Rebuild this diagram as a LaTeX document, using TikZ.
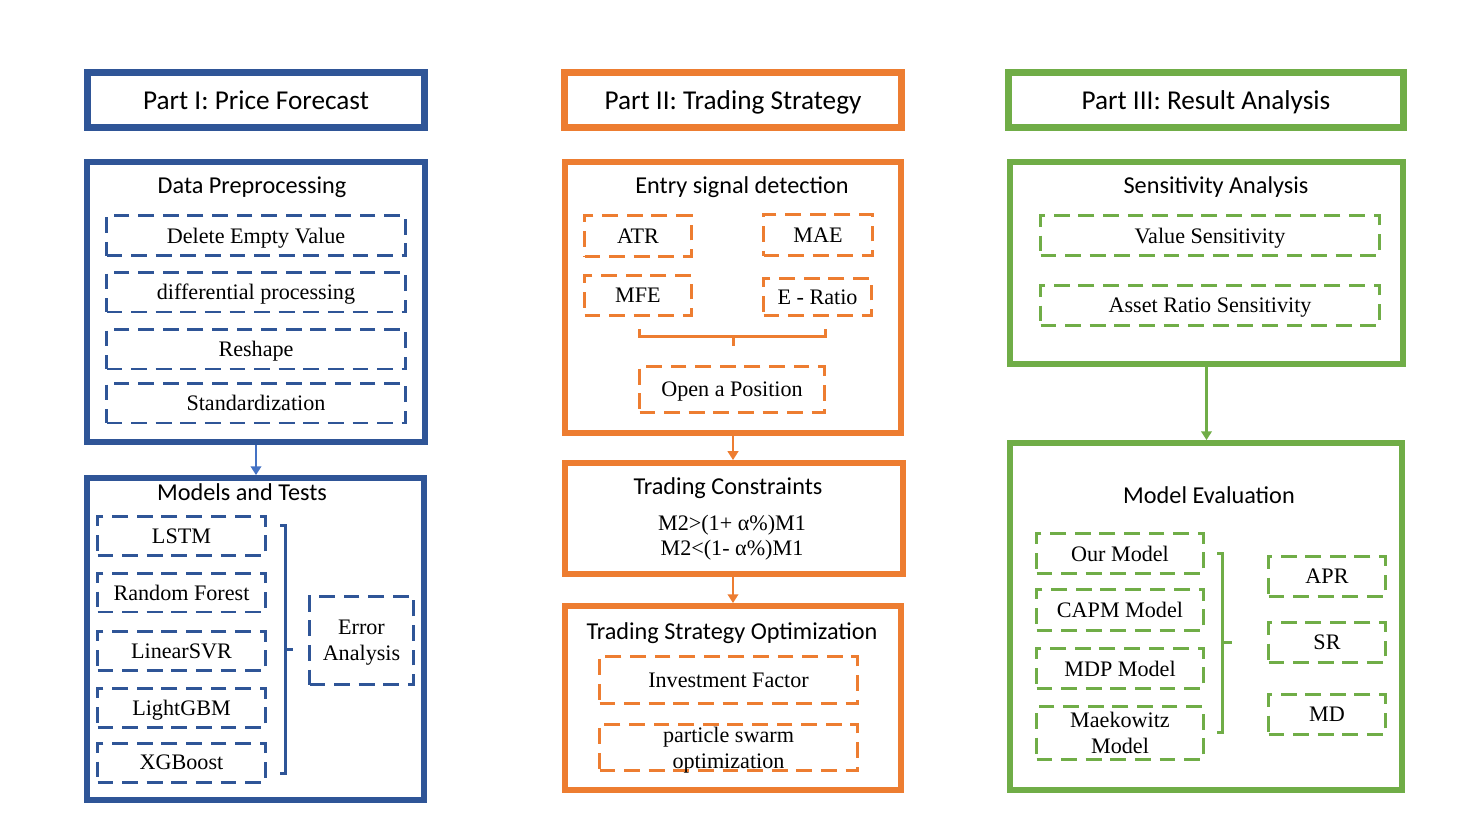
\documentclass[tikz,border=0pt]{standalone}
\usepackage{fontspec}
\setmainfont{Liberation Serif}
\newfontfamily\headfont{Carlito}
\usepackage{tikz}
\usetikzlibrary{arrows.meta, positioning}
\usepackage{xcolor}
\definecolor{partblue}{HTML}{2F5597}
\definecolor{arrowblue}{HTML}{4472C4}
\definecolor{partorange}{HTML}{ED7D31}
\definecolor{partgreen}{HTML}{70AD47}

\begin{document}
\begin{tikzpicture}[x=0.02cm, y=-0.02cm]
    % Define styles
    \tikzstyle{titlebox}=[draw, line width=4pt, minimum height=1.10cm, text height=11.3pt, text depth=0pt, font=\headfont\fontsize{15.5}{18}\selectfont]
    \tikzstyle{partbox}=[draw, line width=3.4pt]
    \tikzstyle{heading}=[anchor=base, font=\headfont\fontsize{13.8}{16}\selectfont]
    \tikzstyle{stepbox}=[draw, line width=1.7pt, dash pattern=on 9pt off 5pt, inner sep=0pt, text depth=0pt, align=center, font=\fontsize{12.6}{14.7}\selectfont]
    \tikzstyle{brace}=[line width=1.7pt]
    \tikzstyle{flow}=[-{Triangle[width=6pt,length=5pt]}, line width=1.2pt]

    \useasboundingbox (0,0) rectangle (1467,825);

    % Part I - Price Forecast
    \node[titlebox, draw=partblue, minimum width=6.74cm] (t1) at (256,100) {Part I: Price Forecast};

    % Data Preprocessing
    \node[partbox, draw=partblue, minimum width=6.76cm, minimum height=5.60cm] (dp) at (256,302) {};
    \node[heading] (dpT) at (252,193) {Data Preprocessing};
    \foreach \name/\y/\txt in {dev/235.5/Delete Empty Value, dif/292/differential processing, rsh/349/Reshape, std/403/Standardization} {
        \node[stepbox, draw=partblue, minimum width=5.98cm, minimum height=0.80cm] (\name) at (256,\y) {\txt};
    }

    % Models and Tests
    \node[partbox, draw=partblue, minimum width=6.74cm, minimum height=6.44cm] (mt) at (255.5,639) {};
    \node[heading] (mtT) at (242,500) {Models and Tests};
    \foreach \name/\y/\txt in {lstm/536/LSTM, rf/592.5/Random Forest, lsvr/651/LinearSVR, lgbm/708/LightGBM, xgb/762.5/XGBoost} {
        \node[stepbox, draw=partblue, minimum width=3.36cm, minimum height=0.78cm] (\name) at (181.5,\y) {\txt};
    }
    \node[stepbox, draw=partblue, minimum width=2.08cm, minimum height=1.76cm] (err) at (361.5,640.5) {Error\\Analysis};
    % bracket round the models
    \draw[brace, partblue] (280,525) -- (285.5,525) -- (285.5,773) -- (280,773);
    \draw[brace, partblue] (285.5,649) -- (293,649);

    \draw[flow, arrowblue] (dp.south) -- (dp.south |- mt.north);

    % Part II - Trading Strategy
    \node[titlebox, draw=partorange, minimum width=6.74cm] (t2) at (733,100) {Part II: Trading Strategy};

    % Entry signal detection
    \node[partbox, draw=partorange, minimum width=6.72cm, minimum height=5.42cm] (esd) at (733,297.5) {};
    \node[heading] (esdT) at (742,193) {Entry signal detection};
    \node[stepbox, draw=partorange, minimum width=2.14cm, minimum height=0.82cm] (atr) at (638,236) {ATR};
    \node[stepbox, draw=partorange, minimum width=2.18cm, minimum height=0.82cm] (mae) at (818,235) {MAE};
    \node[stepbox, draw=partorange, minimum width=2.14cm, minimum height=0.80cm] (mfe) at (638,295.5) {MFE};
    \node[stepbox, draw=partorange, minimum width=2.16cm, minimum height=0.74cm] (eratio) at (817.5,297) {E - Ratio};
    % bracket under the signals
    \draw[brace, partorange] (639,329) -- (639,336.5) -- (825,336.5) -- (825,329);
    \draw[brace, partorange] (733,336.5) -- (733,346);
    \node[stepbox, draw=partorange, minimum width=3.70cm, minimum height=0.92cm] (oap) at (732,389.5) {Open a Position};

    % Trading Constraints
    \node[partbox, draw=partorange, minimum width=6.76cm, minimum height=2.22cm] (tc) at (734,518.5) {};
    \node[heading] (tcT) at (728,494) {Trading Constraints};
    \node[align=center, text depth=0pt, font=\fontsize{12.6}{14.2}\selectfont] (tcM) at (732,535) {M2>(1+ α\%)M1\\M2<(1- α\%)M1};

    % Trading Strategy Optimization
    \node[partbox, draw=partorange, minimum width=6.72cm, minimum height=3.68cm] (tso) at (733,698) {};
    \node[heading] (tsoT) at (732,639) {Trading Strategy Optimization};
    \node[stepbox, draw=partorange, minimum width=5.16cm, minimum height=0.94cm] (inv) at (728.5,680) {Investment Factor};
    \node[stepbox, draw=partorange, minimum width=5.16cm, minimum height=0.92cm] (pso) at (728.5,747.5) {particle swarm\\optimization};

    \draw[flow, partorange] (esd.south) -- (esd.south |- tc.north);
    \draw[flow, partorange] (tso.north |- tc.south) -- (tso.north);

    % Part III - Result Analysis
    \node[titlebox, draw=partgreen, minimum width=7.90cm] (t3) at (1206,100) {Part III: Result Analysis};

    % Sensitivity Analysis
    \node[partbox, draw=partgreen, minimum width=7.86cm, minimum height=4.04cm] (sa) at (1206.5,263) {};
    \node[heading] (saT) at (1216,193) {Sensitivity Analysis};
    \node[stepbox, draw=partgreen, minimum width=6.78cm, minimum height=0.80cm] (vs) at (1210,235.5) {Value Sensitivity};
    \node[stepbox, draw=partgreen, minimum width=6.78cm, minimum height=0.80cm] (ars) at (1210,305.5) {Asset Ratio Sensitivity};

    % Model Evaluation
    \node[partbox, draw=partgreen, minimum width=7.84cm, minimum height=6.94cm] (me) at (1206,616.5) {};
    \node[heading] (meT) at (1209,503) {Model Evaluation};
    \node[stepbox, draw=partgreen, minimum width=3.34cm, minimum height=0.80cm] (om) at (1120,553.5) {Our Model};
    \node[stepbox, draw=partgreen, minimum width=3.34cm, minimum height=0.82cm] (capm) at (1120,610) {CAPM Model};
    \node[stepbox, draw=partgreen, minimum width=3.34cm, minimum height=0.80cm] (mdp) at (1120,668.5) {MDP Model};
    \node[stepbox, draw=partgreen, minimum width=3.34cm, minimum height=1.06cm] (mkw) at (1120,733) {Maekowitz\\Model};
    % bracket round the models
    \draw[brace, partgreen] (1217,553) -- (1222.5,553) -- (1222.5,732) -- (1217,732);
    \draw[brace, partgreen] (1222.5,642) -- (1232,642);
    \foreach \name/\y/\txt in {apr/576.5/APR, sr/642.5/SR, md/714.5/MD} {
        \node[stepbox, draw=partgreen, minimum width=2.34cm, minimum height=0.80cm] (\name) at (1327,\y) {\txt};
    }

    \draw[flow, partgreen] (sa.south) -- (sa.south |- me.north);
\end{tikzpicture}
\end{document}
